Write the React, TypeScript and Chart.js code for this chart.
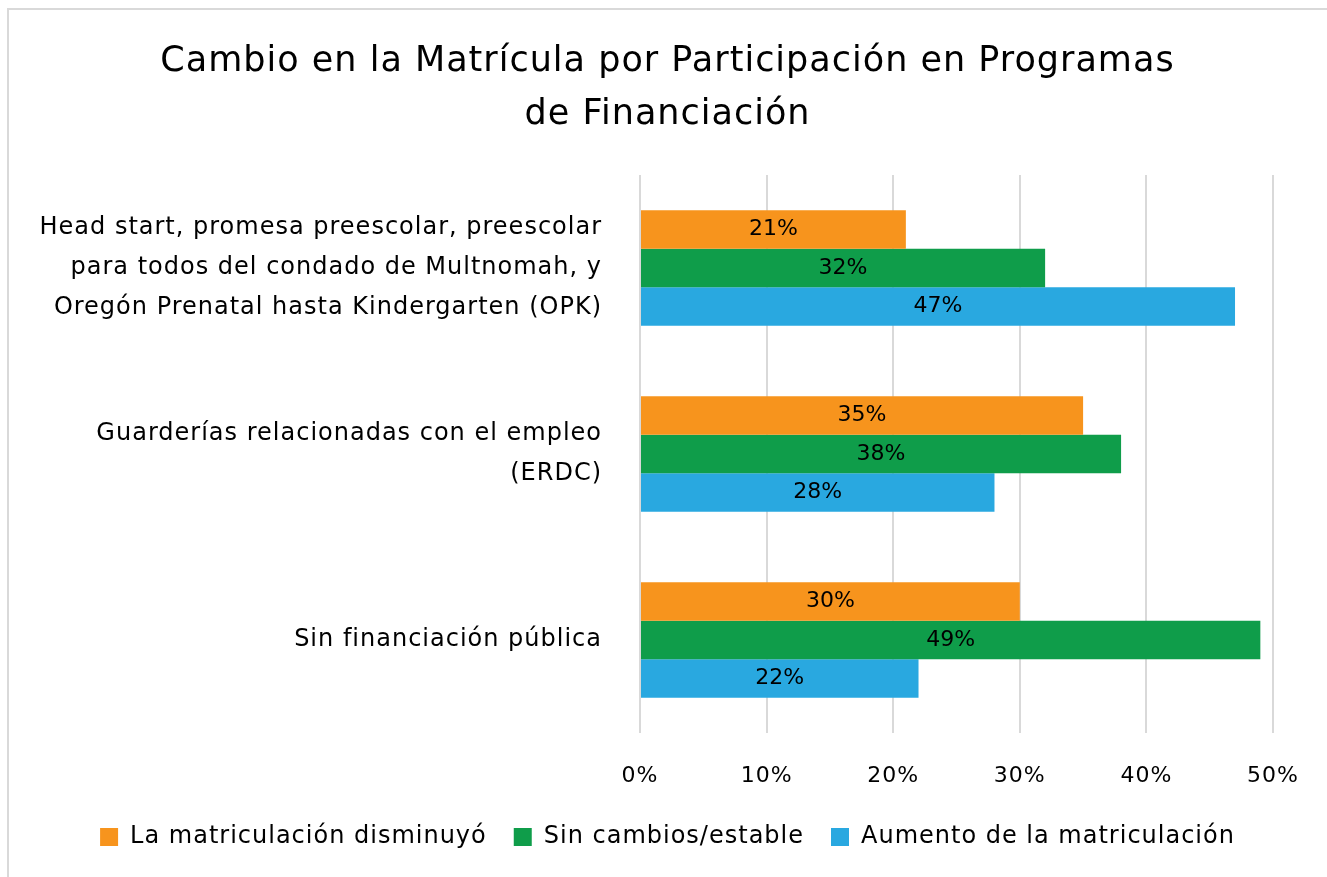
import React, { useEffect, useRef } from "react";
import { Chart, registerables } from "chart.js";

Chart.register(...registerables);

const categories: string[][] = [
  ["Head start, promesa preescolar, preescolar", "para todos del condado de Multnomah, y", "Oregón Prenatal hasta Kindergarten (OPK)"],
  ["Guarderías relacionadas con el empleo", "(ERDC)"],
  ["Sin financiación pública"],
];
const seriesNames = ["La matriculación disminuyó", "Sin cambios/estable", "Aumento de la matriculación"];
const decreased = [21, 35, 30];
const stable = [32, 38, 49];
const increased = [47, 28, 22];
const titleLines = ["Cambio en la Matrícula por Participación en Programas", "de Financiación"];
const xMax = 50;
const xStep = 10;

const FONT = "'DejaVu Sans', 'Open Sans', sans-serif";

const spacing = {
  id: "spacing",
  beforeUpdate(chart: any) {
    chart.ctx.letterSpacing = "1px";
  },
  beforeDraw(chart: any) {
    chart.ctx.letterSpacing = "1px";
  },
};

const valueLabels = {
  id: "valueLabels",
  afterDatasetsDraw(chart: any) {
    const ctx = chart.ctx;
    ctx.save();
    ctx.letterSpacing = "0px";
    ctx.font = `22px ${FONT}`;
    ctx.fillStyle = "#000";
    ctx.textAlign = "center";
    ctx.textBaseline = "middle";
    chart.data.datasets.forEach((ds: any, i: number) => {
      const meta = chart.getDatasetMeta(i);
      meta.data.forEach((bar: any, j: number) => {
        const x = (bar.x + bar.base) / 2;
        ctx.fillText(`${ds.data[j]}%`, x, bar.y);
      });
    });
    ctx.restore();
  },
};

export default function App() {
  const ref = useRef<HTMLCanvasElement>(null);
  useEffect(() => {
    if (!ref.current) return;
    const chart = new Chart(ref.current, {
      type: "bar",
      data: {
        labels: categories as any,
        datasets: [
          { label: seriesNames[0], data: decreased, backgroundColor: "#F7941D", borderWidth: 0, yAxisID: "y" },
          { label: seriesNames[1], data: stable, backgroundColor: "#0F9D4A", borderWidth: 0, yAxisID: "y" },
          { label: seriesNames[2], data: increased, backgroundColor: "#29A8E0", borderWidth: 0, yAxisID: "y" },
        ],
      },
      options: {
        indexAxis: "y",
        animation: false,
        responsive: false,
        maintainAspectRatio: false,
        layout: { padding: { left: 8, right: 0, top: 0, bottom: 18 } },
        datasets: { bar: { categoryPercentage: 0.62, barPercentage: 1 } },
        plugins: {
          title: {
            display: true,
            text: titleLines,
            color: "#000",
            font: { family: FONT, size: 35, weight: "normal", lineHeight: 53 / 35 },
            padding: { top: 35, bottom: 34 },
          },
          legend: {
            position: "bottom",
            labels: {
              color: "#000",
              font: { family: FONT, size: 24 },
              boxWidth: 18,
              boxHeight: 18,
              padding: 27,
            },
          },
          tooltip: { enabled: false },
        },
        scales: {
          x: {
            min: 0,
            max: xMax,
            ticks: {
              stepSize: xStep,
              color: "#000",
              font: { family: FONT, size: 22 },
              padding: 30,
              callback: (v: any) => `${v}%`,
            },
            grid: { color: "#d9d9d9", lineWidth: 2, drawTicks: false },
            border: { display: false },
            afterFit: (s: any) => {
              s.height = 65;
              s.paddingLeft = 0;
              s.paddingRight = 0;
            },
          },
          y: {
            type: "category",
            position: "left",
            ticks: {
              color: "#000",
              font: { family: FONT, size: 24, lineHeight: 40 / 24 },
              padding: 38,
            },
            grid: { display: false, drawTicks: false },
            border: { display: false },
            afterFit: (s: any) => {
              s.width = 632;
            },
          },
          yRight: {
            type: "category",
            axis: "y",
            position: "right",
            ticks: { display: false },
            grid: { display: false, drawTicks: false },
            border: { display: false },
            afterFit: (s: any) => {
              s.width = 54;
            },
          },
        },
      },
      plugins: [spacing, valueLabels],
    });
    return () => chart.destroy();
  }, []);
  return (
    <>
      <div
        style={{
          position: "fixed",
          left: 7,
          top: 8,
          right: 0,
          bottom: 0,
          borderLeft: "2px solid #d9d9d9",
          borderTop: "2px solid #d9d9d9",
          background: "#fff",
        }}
      />
      <canvas
        ref={ref}
        width={1327}
        height={877}
        style={{ position: "fixed", left: 0, top: 0, width: 1327, height: 877 }}
      />
    </>
  );
}
